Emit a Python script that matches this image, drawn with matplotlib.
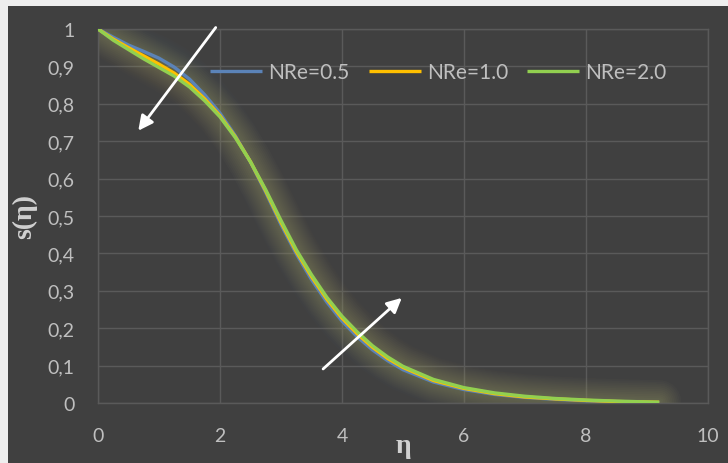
import numpy as np
import matplotlib
matplotlib.use("Agg")
import matplotlib.pyplot as plt
from matplotlib.patches import Rectangle
from matplotlib.ticker import FuncFormatter, MultipleLocator

# similarity variable
eta = [0.0, 0.25, 0.5, 0.75, 1.0, 1.25, 1.5, 1.75, 2.0, 2.25, 2.5, 2.75,
       3.0, 3.25, 3.5, 3.75, 4.0, 4.25, 4.5, 4.75, 5.0, 5.5, 6.0, 6.5,
       7.0, 7.5, 8.0, 8.5, 9.2]

# s(eta) profiles for each Reynolds number
s_nre05 = [1.0, 0.978, 0.957, 0.940, 0.922, 0.898, 0.866, 0.824, 0.775, 0.715,
           0.644, 0.563, 0.477, 0.399, 0.330, 0.270, 0.219, 0.177, 0.142, 0.113,
           0.089, 0.056, 0.036, 0.023, 0.015, 0.010, 0.006, 0.004, 0.001]
s_nre10 = [1.0, 0.973, 0.950, 0.928, 0.906, 0.882, 0.852, 0.813, 0.768, 0.712,
           0.645, 0.567, 0.483, 0.405, 0.338, 0.278, 0.227, 0.185, 0.149, 0.119,
           0.095, 0.060, 0.039, 0.025, 0.016, 0.011, 0.007, 0.004, 0.002]
s_nre20 = [1.0, 0.970, 0.945, 0.920, 0.897, 0.874, 0.845, 0.808, 0.765, 0.710,
           0.645, 0.570, 0.488, 0.410, 0.343, 0.283, 0.232, 0.190, 0.153, 0.123,
           0.098, 0.063, 0.041, 0.027, 0.018, 0.012, 0.008, 0.005, 0.002]

series_labels = ["NRe=0.5", "NRe=1.0", "NRe=2.0"]
x_ticks = [0, 2, 4, 6, 8, 10]

line_colors = ["#5b83b8", "#ffc000", "#92d050"]
glow_colors = ["#6a80a8", "#b89a5a", "#a8a068"]
text_color = "#bfbfbf"
grid_color = "#5a5a5a"

W, H = 728, 464
fig = plt.figure(figsize=(W / 100, H / 100), dpi=100)
fig.patch.set_facecolor("#eeeeee")
fig.add_artist(Rectangle((8 / W, 0), 1 - 8 / W, 1 - 7 / H,
                         transform=fig.transFigure, facecolor="#404040",
                         edgecolor="none", zorder=0))

ax = fig.add_axes([98 / W, 60 / H, 610 / W, 374 / H])
ax.set_facecolor("none")

ax.set_xlim(0, 10)
ax.set_ylim(0, 1)
ax.yaxis.set_major_locator(MultipleLocator(0.1))
ax.set_xticks(x_ticks)
ax.yaxis.set_major_formatter(FuncFormatter(lambda v, p: f"{v:g}".replace(".", ",")))

ax.grid(True, color=grid_color, lw=1.0)
ax.set_axisbelow(True)
for sp in ax.spines.values():
    sp.set_color(grid_color)
    sp.set_linewidth(1.0)

tick_family = ["Lato", "DejaVu Sans"]
ax.tick_params(length=0, pad=17, colors=text_color)
for lab in ax.get_xticklabels() + ax.get_yticklabels():
    lab.set_fontfamily(tick_family)
    lab.set_fontsize(14)
    lab.set_color(text_color)

all_series = [s_nre05, s_nre10, s_nre20]

# soft glow around each curve
for ys, gc in zip(all_series, glow_colors):
    for w in np.linspace(32, 4, 12):
        ax.plot(eta, ys, color=gc, lw=w, alpha=0.02, solid_capstyle="round",
                solid_joinstyle="round", zorder=2)

handles = []
for ys, c, lab in zip(all_series, line_colors, series_labels):
    h, = ax.plot(eta, ys, color=c, lw=2.4, label=lab, solid_capstyle="butt",
                 solid_joinstyle="round", zorder=3)
    handles.append(h)

leg = ax.legend(handles=handles, loc="center", bbox_to_anchor=(0.558, 0.885),
                ncol=3, frameon=False, handlelength=2.5, handletextpad=0.3,
                columnspacing=0.9, prop=dict(family=tick_family, size=15))
for t in leg.get_texts():
    t.set_color(text_color)

label_font = dict(family=["Liberation Serif", "DejaVu Serif"], weight="bold",
                  size=20, color="#d0d0d0")
ax.set_xlabel("η", **label_font)
ax.set_ylabel("s(η)", **label_font)
ax.xaxis.set_label_coords(0.5, -0.08)
ax.yaxis.set_label_coords(-0.1, 0.5)

arrow_kw = dict(arrowstyle="-|>", color="white", lw=2.0, mutation_scale=22,
                shrinkA=0, shrinkB=0)
ax.annotate("", xy=(0.66, 0.728), xytext=(1.93, 1.004),
            arrowprops=arrow_kw, annotation_clip=False, zorder=5)
ax.annotate("", xy=(4.98, 0.281), xytext=(3.69, 0.091),
            arrowprops=arrow_kw, annotation_clip=False, zorder=5)

fig.savefig("out.png", dpi=100, facecolor=fig.get_facecolor())
